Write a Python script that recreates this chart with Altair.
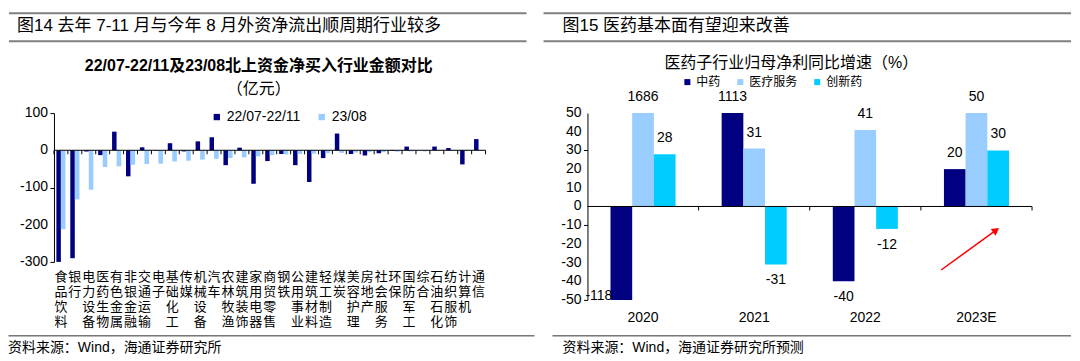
import altair as alt
import pandas as pd

# ---------------- data ----------------
industries = ["食品饮料", "银行", "电力设备", "医药生物", "有色金属", "非银金融", "交通运输", "电子",
              "基础化工", "传媒", "机械设备", "汽车", "农林牧渔", "建筑装饰", "家用电器", "商贸零售",
              "钢铁", "公用事业", "建筑材料", "轻工制造", "煤炭", "美容护理", "房地产", "社会服务",
              "环保", "国防军工", "综合", "石油石化", "纺织服饰", "计算机", "通信"]
net_buy_2207_2211 = [-300, -290, -3, -13, 50, -70, 8, -1, 19, -3, 24, 35, -40, 7, -90, -29,
                     -10, -40, -85, -21, 45, -10, -14, -8, -2, 10, 0, 10, 6, -38, 30]
net_buy_2308 = [-212, -132, -106, -45, -43, -39, -37, -36, -30, -28, -25, -23, -21, -19, -16, -13,
                -11, -10, -9, -8, -7, -6, -5, -5, -4, -3, -3, -2, -2, -2, -1]
series_left = ["22/07-22/11", "23/08"]
yticks_left = [100, 0, -100, -200, -300]

years = ["2020", "2021", "2022", "2023E"]
tcm = [-118, 1113, -40, 20]
medical_service = [1686, 31, 41, 50]
innovative_drug = [28, -31, -12, 30]
series_right = ["中药", "医疗服务", "创新药"]
yticks_right = [50, 40, 30, 20, 10, 0, -10, -20, -30, -40, -50]

title_left = "图14 去年 7-11 月与今年 8 月外资净流出顺周期行业较多"
sub_left_1 = "22/07-22/11及23/08北上资金净买入行业金额对比"
sub_left_2 = "（亿元）"
title_right = "图15 医药基本面有望迎来改善"
sub_right = "医药子行业归母净利同比增速（%）"
source_left = "资料来源：Wind，海通证券研究所"
source_right = "资料来源：Wind，海通证券研究所预测"

# ---------------- styles ----------------
CJK = '"Noto Sans CJK SC"'
LAT = '"Liberation Sans"'
MIX = '"Liberation Sans", "Noto Sans CJK SC"'
NAVY, LIGHT, CYAN = "#000080", "#99CCFF", "#00CCFF"
LW, LH = 432, 149
RW, RH = 445, 187

one = pd.DataFrame({"k": [0]})


def txt(s, x, y, size, align="left", font=MIX, weight="normal"):
    return alt.Chart(pd.DataFrame({"t": [s]})).mark_text(
        align=align, baseline="middle", font=font, fontSize=size, fontWeight=weight, color="#000"
    ).encode(x=alt.value(x), y=alt.value(y), text="t:N")


def hline(x1, x2, y, color, sw):
    return alt.Chart(one).mark_rule(color=color, strokeWidth=sw).encode(
        x=alt.value(x1), x2=alt.value(x2), y=alt.value(y), y2=alt.value(y))


def ylabels(values, field, ydef):
    return alt.Chart(pd.DataFrame({field: values})).transform_calculate(
        lab=f"'' + datum['{field}']").mark_text(
        align="right", baseline="middle", dx=-6, font=LAT, fontSize=14, color="#000"
    ).encode(x=alt.value(0), y=ydef, text="lab:N")


# ---------------- left panel ----------------
dfL = pd.DataFrame({
    "industry": industries + industries,
    "series": [series_left[0]] * len(industries) + [series_left[1]] * len(industries),
    "value": net_buy_2207_2211 + net_buy_2308,
})

axis_xL = alt.Axis(title=None, domain=False, ticks=False, labelAngle=0,
                   labelExpr="split(datum.label, '')", labelFont=CJK, labelFontSize=13,
                   labelLineHeight=15, labelPadding=9, labelOverlap=False, labelColor="#000")


def xL(band=None):
    kw = {} if band is None else {"bandPosition": band}
    return alt.X("industry:N", sort=industries, scale=alt.Scale(paddingInner=0, paddingOuter=0),
                 axis=axis_xL, **kw)


yL = alt.Y("value:Q", scale=alt.Scale(domain=[-300, 100], nice=False, zero=False),
           axis=alt.Axis(title=None, values=yticks_left, grid=False, labels=False,
                         domainColor="#000", tickColor="#000", tickSize=4))

colorL = alt.Color("series:N", scale=alt.Scale(domain=series_left, range=[NAVY, LIGHT]),
                   legend=alt.Legend(title=None, orient="none", legendX=156, legendY=-3,
                                     direction="horizontal", symbolType="square", symbolSize=40,
                                     symbolStrokeWidth=0, labelFont=LAT, labelFontSize=14,
                                     labelColor="#000", columnPadding=14, labelOffset=3, padding=0))

baseL = alt.Chart(dfL)
dark_L = baseL.transform_filter(alt.datum.series == series_left[0]).mark_bar(
    width=4.5, xOffset=-2.3).encode(x=xL(), y=yL, color=colorL)
light_L = baseL.transform_filter(alt.datum.series == series_left[1]).mark_bar(
    width=4.6, xOffset=2.3).encode(x=xL(), y=yL, color=colorL)
zero_L = alt.Chart(one).mark_rule(color="#000", strokeWidth=1).encode(y=alt.datum(0))
ticks_L = alt.Chart(pd.DataFrame({"industry": industries})).mark_rule(
    color="#000", y2Offset=4).encode(x=xL(0), y=alt.datum(0), y2=alt.datum(0))
tick_end_L = alt.Chart(one).mark_rule(color="#000", y2Offset=4).encode(
    x=alt.value(LW), y=alt.datum(0), y2=alt.datum(0))

left = alt.layer(
    hline(0, 10, -104, "#ffffff", 1),
    hline(-45, 473, -100, "#808080", 2),
    hline(-45, 473, -72, "#808080", 2),
    txt(title_left, -37, -87, 17),
    txt(sub_left_1, 205, -47, 16, align="center", weight="bold"),
    txt(sub_left_2, 205, -24, 16, align="center"),
    dark_L, light_L, zero_L, ticks_L, tick_end_L,
    ylabels(yticks_left, "value", yL),
    hline(-45.5, 481, 223, "#303030", 1),
    txt(source_left, -46, 235, 14),
).properties(width=LW, height=LH)

# ---------------- right panel ----------------
dfR = pd.DataFrame({
    "year": years * 3,
    "sub": [series_right[0]] * 4 + [series_right[1]] * 4 + [series_right[2]] * 4,
    "growth": tcm + medical_service + innovative_drug,
})

axis_xR = alt.Axis(title=None, domain=False, ticks=False, labelAngle=0, labelFont=LAT,
                   labelFontSize=14, labelPadding=11, labelColor="#000")


def xR(band=None):
    kw = {} if band is None else {"bandPosition": band}
    return alt.X("year:N", sort=years, scale=alt.Scale(paddingInner=0, paddingOuter=0),
                 axis=axis_xR, **kw)


yR = alt.Y("growth:Q", scale=alt.Scale(domain=[-50, 50], nice=False, zero=False, clamp=True),
           axis=alt.Axis(title=None, values=yticks_right, grid=False, labels=False,
                         domainColor="#000", tickColor="#000", tickSize=4))

colorR = alt.Color("sub:N", scale=alt.Scale(domain=series_right, range=[NAVY, LIGHT, CYAN]),
                   legend=alt.Legend(title=None, orient="none", legendX=94, legendY=-37,
                                     direction="horizontal", symbolType="square", symbolSize=36,
                                     symbolStrokeWidth=0, labelFont=CJK, labelFontSize=12,
                                     labelColor="#000", columnPadding=13, labelOffset=3, padding=0))

offsets = [-21.7, 0, 21.7]
right_layers = [
    hline(0, 10, -104, "#ffffff", 1),
    hline(-44, 484, -100, "#808080", 2),
    hline(-44, 484, -72, "#808080", 2),
    txt(title_right, -25, -87, 17),
    txt(sub_right, 204, -50, 16, align="center"),
]
for s, o in zip(series_right, offsets):
    b = alt.Chart(dfR).transform_filter(alt.datum.sub == s).transform_calculate(
        lab="'' + datum.growth")
    right_layers.append(b.mark_bar(width=21.7, xOffset=o).encode(x=xR(), y=yR, color=colorR))
    right_layers.append(b.transform_filter("datum.growth > 0").mark_text(
        xOffset=o, dy=-16, baseline="middle", font=LAT, fontSize=14, color="#000"
    ).encode(x=xR(), y=yR, text="lab:N"))
    right_layers.append(b.transform_filter("datum.growth < 0 && datum.growth >= -50").mark_text(
        xOffset=o, dy=16, baseline="middle", font=LAT, fontSize=14, color="#000"
    ).encode(x=xR(), y=yR, text="lab:N"))
    right_layers.append(b.transform_filter("datum.growth < -50").mark_text(
        xOffset=o, dx=-9, dy=-4, align="right", baseline="middle", font=LAT, fontSize=14,
        color="#000").encode(x=xR(), y=yR, text="lab:N"))

zero_R = alt.Chart(one).mark_rule(color="#000", strokeWidth=1).encode(y=alt.datum(0))
ticks_R = alt.Chart(pd.DataFrame({"year": years[1:]})).mark_rule(
    color="#000", y2Offset=4).encode(x=xR(0), y=alt.datum(0), y2=alt.datum(0))
tick_end_R = alt.Chart(one).mark_rule(color="#000", y2Offset=4).encode(
    x=alt.value(RW), y=alt.datum(0), y2=alt.datum(0))
arrow_line = alt.Chart(one).mark_rule(color="#FF0000", strokeWidth=1.5).encode(
    x=alt.value(354), x2=alt.value(409), y=alt.datum(-34), y2=alt.datum(-12.7))
arrow_head = alt.Chart(one).mark_point(shape="triangle-up", filled=True, size=70, angle=54,
                                       color="#FF0000", opacity=1).encode(
    x=alt.value(409), y=alt.datum(-12.7))

right_layers += [zero_R, ticks_R, tick_end_R, arrow_line, arrow_head,
                 ylabels(yticks_right, "growth", yR),
                 hline(-35, 484, 223, "#303030", 1),
                 txt(source_right, -25, 235, 14)]

right = alt.layer(*right_layers).properties(width=RW, height=RH)

chart = alt.hconcat(left, right, spacing=7).resolve_scale(
    color="independent").configure_view(strokeWidth=0).properties(
    padding=0, background="white")

chart.save("out.html", embed_options={"renderer": "svg", "actions": False})
